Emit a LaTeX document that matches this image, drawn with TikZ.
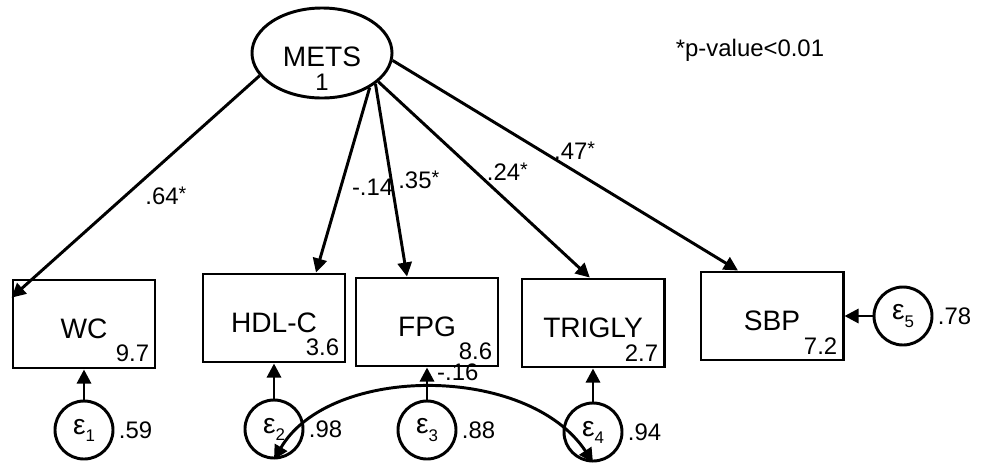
\documentclass[tikz,border=0pt]{standalone}
\usepackage{fontspec}
\setmainfont{Liberation Sans}
\usetikzlibrary{positioning, shapes.geometric, arrows.meta}
\newcommand{\eps}[1]{ε\raisebox{-5pt}{\fontsize{12}{12}\selectfont #1}}
\newcommand{\sig}{\raisebox{3pt}{\fontsize{14}{14}\selectfont *}}

\begin{document}
\begin{tikzpicture}[x=0.025cm, y=-0.025cm,
        every node/.style={font=\fontsize{20}{24}\selectfont},
        latent/.style={draw, ellipse, line width=2.1pt, minimum width=3.5cm, minimum height=2.25cm, inner sep=0pt},
        obs/.style={draw, rectangle, line width=2.1pt, minimum width=3.55cm, minimum height=2.2cm, text height=20pt, text depth=0pt},
        err/.style={draw, circle, line width=2.1pt, minimum size=1.45cm, inner sep=0pt},
        num/.style={font=\fontsize{17}{19}\selectfont, inner sep=1pt},
        load/.style={line width=2.1pt, -{Triangle[length=10pt, width=10pt]}},
        cov/.style={line width=2.1pt, {Triangle[length=10pt, width=10pt]}-{Triangle[length=10pt, width=10pt]}}]
        \useasboundingbox (0, 0) rectangle (981, 463);

        \node[latent] (METS) at (322, 53) {};
        \node (metsname) at (322, 57) {METS};
        \node[num] (metsvar) at (322, 82) {1};
        \node[font=\fontsize{17}{20}\selectfont] (pnote) at (750, 50) {*p-value<0.01};

        \node[obs] (WC) at (84, 324) {WC};
        \node[obs] (HDL) at (274, 318) {HDL-C};
        \node[obs] (FPG) at (427, 322) {FPG};
        \node[obs] (TRIGLY) at (593, 323) {TRIGLY};
        \node[obs] (SBP) at (772, 316) {SBP};

        \node[num, anchor=south east, inner sep=5pt] (WCvar) at (WC.south east) {9.7};
        \node[num, anchor=south east, inner sep=5pt] (HDLvar) at (HDL.south east) {3.6};
        \node[num, anchor=south east, inner sep=5pt] (FPGvar) at (FPG.south east) {8.6};
        \node[num, anchor=south east, inner sep=5pt] (TRIGLYvar) at (TRIGLY.south east) {2.7};
        \node[num, anchor=south east, inner sep=5pt] (SBPvar) at (SBP.south east) {7.2};

        \node[err] (e1) at (84, 430) {\eps{1}};
        \node[err] (e2) at (274, 429) {\eps{2}};
        \node[err] (e3) at (427, 430) {\eps{3}};
        \node[err] (e4) at (593, 432) {\eps{4}};
        \node[err] (e5) at (903, 316) {\eps{5}};

        \node[num, right=2pt of e1] (e1var) {.59};
        \node[num, right=2pt of e2] (e2var) {.98};
        \node[num, right=2pt of e3] (e3var) {.88};
        \node[num, right=2pt of e4] (e4var) {.94};
        \node[num, right=2pt of e5] (e5var) {.78};

        \draw[load] (METS.200) -- (WC.160) node[num, pos=0.54, right=12pt] (l1) {.64\sig};
        \draw[load] (METS.-36) -- ([xshift=1.05cm] HDL.north) node[num, pos=0.54, right=6pt] (l2) {-.14};
        \draw[load] (METS.-30) -- ([xshift=-0.5cm] FPG.north) node[num, pos=0.5, right=3pt] (l3) {.35\sig};
        \draw[load] (METS.-27) -- ([xshift=-0.08cm] TRIGLY.north) node[num, pos=0.46, right=6pt] (l4) {.24\sig};
        \draw[load] (METS.-6) -- ([xshift=-0.85cm] SBP.north) node[num, pos=0.527, above=6pt] (l5) {.47\sig};

        \draw[load] (e1) -- (WC);
        \draw[load] (e2) -- (HDL);
        \draw[load] (e3) -- (FPG);
        \draw[load] (e4) -- (TRIGLY);
        \draw[load] (e5) -- (SBP);

        \draw[cov] (e2.south) .. controls (330, 364) and (528, 364) .. (e4.south)
            node[num, pos=0.5, anchor=south west, xshift=3pt, yshift=3pt] (c24) {-.16};
    \end{tikzpicture}
\end{document}
